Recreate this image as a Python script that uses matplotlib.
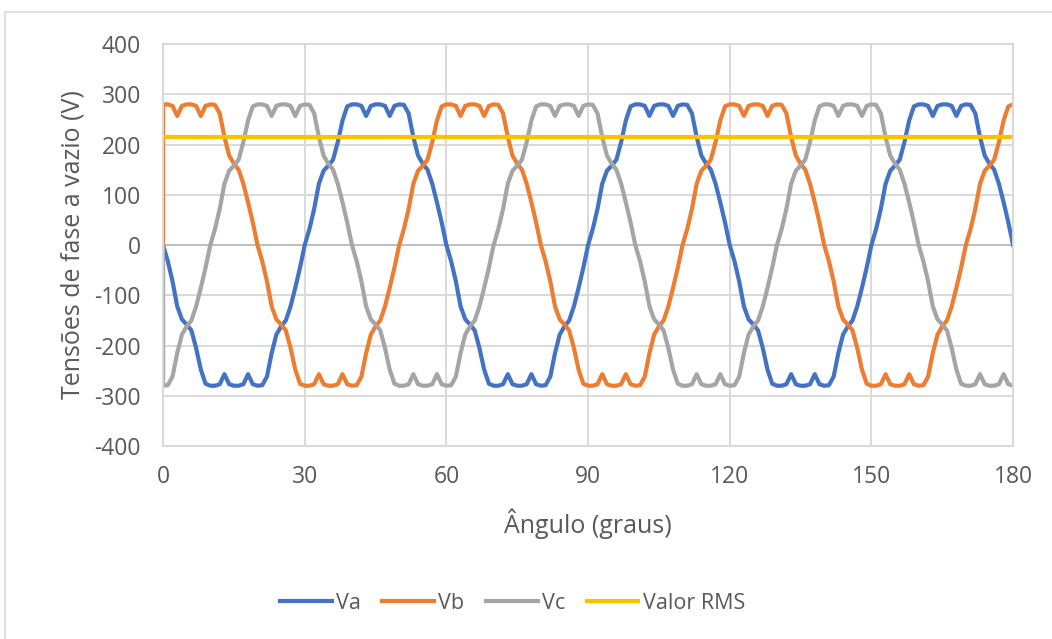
import numpy as np
import matplotlib
matplotlib.use("Agg")
import matplotlib.pyplot as plt
from matplotlib.patches import Rectangle

plt.rcParams['font.family'] = ['Open Sans', 'DejaVu Sans']
plt.rcParams['axes.unicode_minus'] = False

# Mechanical angle (degrees); the first sample is the zero initial state
angle = [0] + list(range(0, 181))

# No-load phase voltages (V), one sample per degree
va = [0,
      0, -32, -72, -122, -148, -158, -170, -205, -248, -276, -280, -280, -277, -257, -277,
      -280, -280, -277, -257, -277, -280, -279, -262, -215, -178, -162, -150, -122, -85, -45,
      0, 32, 72, 122, 148, 158, 170, 205, 248, 276, 280, 280, 277, 257, 277,
      280, 280, 277, 257, 277, 280, 279, 262, 215, 178, 162, 150, 122, 85, 45,
      0, -32, -72, -122, -148, -158, -170, -205, -248, -276, -280, -280, -277, -257, -277,
      -280, -280, -277, -257, -277, -280, -279, -262, -215, -178, -162, -150, -122, -85, -45,
      0, 32, 72, 122, 148, 158, 170, 205, 248, 276, 280, 280, 277, 257, 277,
      280, 280, 277, 257, 277, 280, 279, 262, 215, 178, 162, 150, 122, 85, 45,
      0, -32, -72, -122, -148, -158, -170, -205, -248, -276, -280, -280, -277, -257, -277,
      -280, -280, -277, -257, -277, -280, -279, -262, -215, -178, -162, -150, -122, -85, -45,
      0, 32, 72, 122, 148, 158, 170, 205, 248, 276, 280, 280, 277, 257, 277,
      280, 280, 277, 257, 277, 280, 279, 262, 215, 178, 162, 150, 122, 85, 45,
      0]

vb = [0,
      280, 280, 277, 257, 277, 280, 280, 277, 257, 277, 280, 279, 262, 215, 178, 162, 150, 122, 85, 45,
      0, -32, -72, -122, -148, -158, -170, -205, -248, -276, -280, -280, -277, -257, -277,
      -280, -280, -277, -257, -277, -280, -279, -262, -215, -178, -162, -150, -122, -85, -45,
      0, 32, 72, 122, 148, 158, 170, 205, 248, 276, 280, 280, 277, 257, 277,
      280, 280, 277, 257, 277, 280, 279, 262, 215, 178, 162, 150, 122, 85, 45,
      0, -32, -72, -122, -148, -158, -170, -205, -248, -276, -280, -280, -277, -257, -277,
      -280, -280, -277, -257, -277, -280, -279, -262, -215, -178, -162, -150, -122, -85, -45,
      0, 32, 72, 122, 148, 158, 170, 205, 248, 276, 280, 280, 277, 257, 277,
      280, 280, 277, 257, 277, 280, 279, 262, 215, 178, 162, 150, 122, 85, 45,
      0, -32, -72, -122, -148, -158, -170, -205, -248, -276, -280, -280, -277, -257, -277,
      -280, -280, -277, -257, -277, -280, -279, -262, -215, -178, -162, -150, -122, -85, -45,
      0, 32, 72, 122, 148, 158, 170, 205, 248, 276, 280]

vc = [0,
      -280, -279, -262, -215, -178, -162, -150, -122, -85, -45,
      0, 32, 72, 122, 148, 158, 170, 205, 248, 276, 280, 280, 277, 257, 277,
      280, 280, 277, 257, 277, 280, 279, 262, 215, 178, 162, 150, 122, 85, 45,
      0, -32, -72, -122, -148, -158, -170, -205, -248, -276, -280, -280, -277, -257, -277,
      -280, -280, -277, -257, -277, -280, -279, -262, -215, -178, -162, -150, -122, -85, -45,
      0, 32, 72, 122, 148, 158, 170, 205, 248, 276, 280, 280, 277, 257, 277,
      280, 280, 277, 257, 277, 280, 279, 262, 215, 178, 162, 150, 122, 85, 45,
      0, -32, -72, -122, -148, -158, -170, -205, -248, -276, -280, -280, -277, -257, -277,
      -280, -280, -277, -257, -277, -280, -279, -262, -215, -178, -162, -150, -122, -85, -45,
      0, 32, 72, 122, 148, 158, 170, 205, 248, 276, 280, 280, 277, 257, 277,
      280, 280, 277, 257, 277, 280, 279, 262, 215, 178, 162, 150, 122, 85, 45,
      0, -32, -72, -122, -148, -158, -170, -205, -248, -276, -280, -280, -277, -257, -277,
      -280, -280, -277, -257, -277, -280]

# RMS value of the phase voltage
rms_angle = [0, 180]
rms_value = [215, 215]

x_ticks = [0, 30, 60, 90, 120, 150, 180]
y_ticks = [-400, -300, -200, -100, 0, 100, 200, 300, 400]

series_names = ["Va", "Vb", "Vc", "Valor RMS"]
colors = ["#4472C4", "#ED7D31", "#A5A5A5", "#FFC000"]

text_color = "#595959"
grid_color = "#D9D9D9"

fig = plt.figure(figsize=(10.52, 6.39), dpi=100)
ax = fig.add_axes([0.155, 0.302, 0.808, 0.629])

lw = 3.0
ax.plot(angle, va, color=colors[0], lw=lw, label=series_names[0], solid_joinstyle="round")
ax.plot(angle, vb, color=colors[1], lw=lw, label=series_names[1], solid_joinstyle="round")
ax.plot(angle, vc, color=colors[2], lw=lw, label=series_names[2], solid_joinstyle="round")
ax.plot(rms_angle, rms_value, color=colors[3], lw=lw, label=series_names[3])

ax.set_xlim(0, 180)
ax.set_ylim(-400, 400)
ax.set_xticks(x_ticks)
ax.set_yticks(y_ticks)
ax.grid(True, color=grid_color, lw=1.4)
ax.set_axisbelow(True)
ax.axhline(0, color="#BFBFBF", lw=1.4, zorder=1.5)
for s in ax.spines.values():
    s.set_color(grid_color)
    s.set_linewidth(1.4)

ax.tick_params(length=0, labelsize=16.5, labelcolor=text_color)
ax.tick_params(axis="x", pad=14)
ax.tick_params(axis="y", pad=16)

ax.set_xlabel("Ângulo (graus)", fontsize=18, color=text_color, labelpad=14)
ax.set_ylabel("Tensões de fase a vazio (V)", fontsize=18, color=text_color, labelpad=6)

fig.legend(loc="center", bbox_to_anchor=(0.487, 0.056), ncol=4, frameon=False,
           fontsize=15.5, labelcolor=text_color, handlelength=2.4, handletextpad=0.2,
           columnspacing=1.0)

# Chart area border
fig.patches.append(Rectangle((5 / 1052, -0.1), 1.2, 0.981 + 0.1, transform=fig.transFigure,
                             fill=False, edgecolor=grid_color, lw=1.2))

fig.savefig("out.png", dpi=100)
